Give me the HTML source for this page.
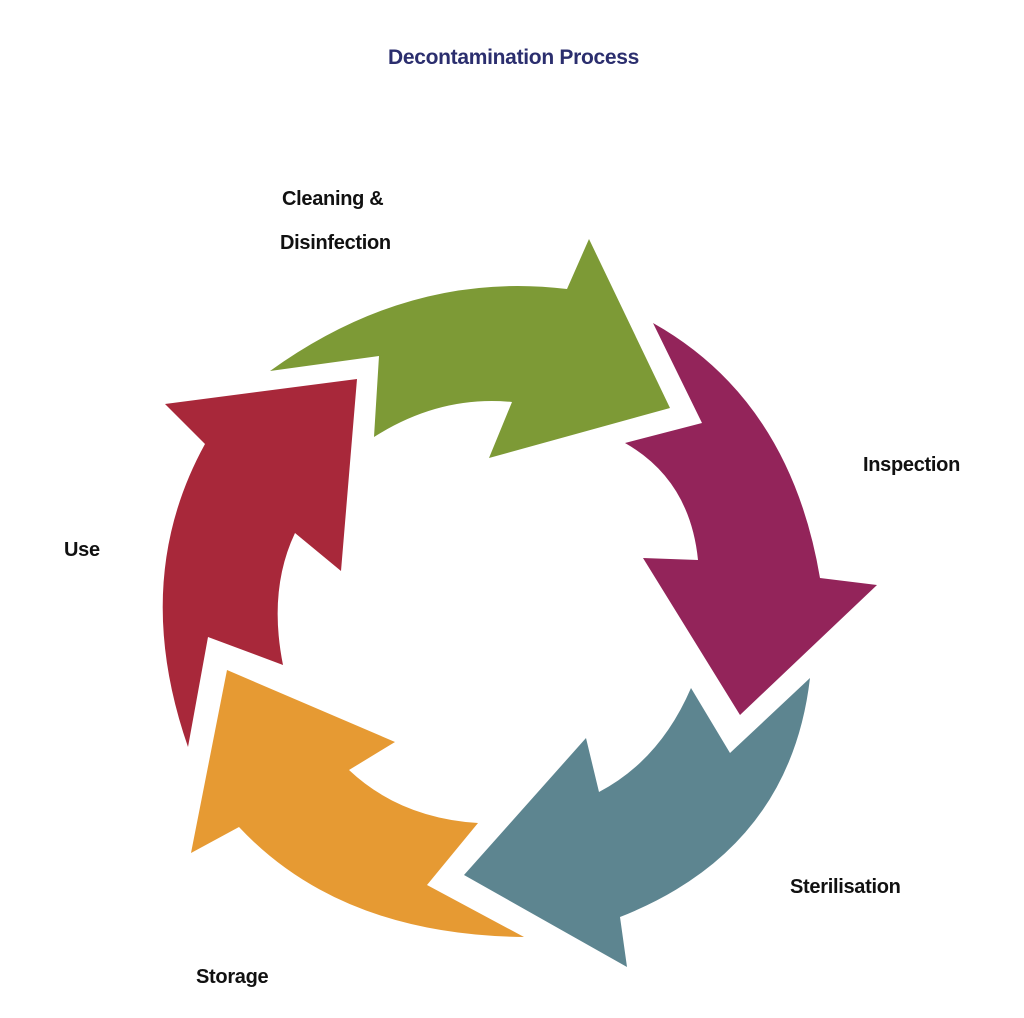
<!DOCTYPE html>
<html><head><meta charset="utf-8"><style>
body{margin:0;background:#fff;width:1024px;height:1018px;overflow:hidden;position:relative;font-family:"Liberation Sans",sans-serif}
.t{position:absolute;font-weight:bold;font-size:20px;color:#111;letter-spacing:-0.3px}
</style></head><body>
<div class="t" style="left:388px;top:46px;color:#2b2e6e;font-size:21px">Decontamination Process</div>
<div class="t" style="left:282px;top:188px">Cleaning &amp;</div>
<div class="t" style="left:280px;top:232px">Disinfection</div>
<div class="t" style="left:863px;top:454px">Inspection</div>
<div class="t" style="left:64px;top:539px">Use</div>
<div class="t" style="left:790px;top:876px">Sterilisation</div>
<div class="t" style="left:196px;top:966px">Storage</div>
<svg width="1024" height="1018" style="position:absolute;left:0;top:0">
<path fill="#7d9a36" d="M270,371 L379,356 L374,437 Q440,395 512,402 L489,458 L670,408 L589,239 L567,289 Q410,270 270,371 Z"/>
<path fill="#a8283a" d="M188,747 Q130,580 205,444 L165,404 L357,379 L341,571 L295,533 Q268,590 283,665 L208,637 Z"/>
<path fill="#e69a33" d="M227,670 L395,742 L349,770 Q400,818 478,823 L427,885 L524,937 Q340,935 239,827 L191,853 Z"/>
<path fill="#5d8590" d="M464,875 L586,738 L599,792 Q660,760 691,688 L730,753 L810,678 Q790,850 620,917 L627,967 Z"/>
<path fill="#93245a" d="M653,323 Q790,400 820,578 L877,585 L740,715 L643,558 L698,560 Q690,480 625,443 L702,423 Z"/>
</svg>
</body></html>
